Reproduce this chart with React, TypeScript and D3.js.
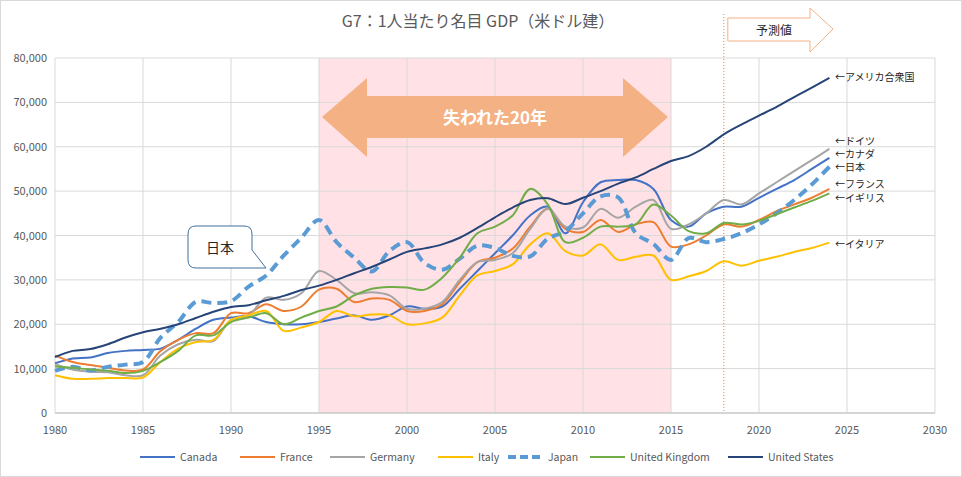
import * as d3 from "d3";

const years = d3.range(1980, 2025);
const xTicks = [1980, 1985, 1990, 1995, 2000, 2005, 2010, 2015, 2020, 2025, 2030];
const yTicks = [0, 10000, 20000, 30000, 40000, 50000, 60000, 70000, 80000];

const usa = [12.6,14,14.4,15.5,17,18.2,19,20,21.4,22.8,23.9,24.3,25.4,26.4,27.7,28.7,30,31.5,32.9,34.6,36.3,37.1,38,39.5,41.7,44.1,46.3,48,48.4,47.1,48.5,50,51.7,53.1,55,56.8,57.9,60,62.8,65,67,69,71.2,73.3,75.5];
const japan = [9.5,10.4,9.6,10.4,10.9,11.5,17,20.5,25,24.8,25.2,28.5,31,35.5,39.5,43.5,38.5,35,31.9,36.5,38.5,33.8,32.3,34.8,37.7,37.2,35.4,35.3,39.3,41,45,48.8,48.6,40.5,38.1,34.5,39.4,38.5,39.2,40.5,42.5,45,48,51.5,55.5];
const canada = [11.2,12.3,12.5,13.5,14,14.2,14.5,16.5,19,21,21.5,21.8,20.5,20,20,20.5,21.3,22,21,22,24,23.5,24,28,32,36,40,44.5,46.5,40.5,47.5,52,52.5,52.5,50.5,43.5,42,45,46.5,46.5,48.5,50.5,52.5,55,57.5];
const france = [13,11.5,10.8,10.2,9.6,9.8,14,16.5,18,18,22.5,22.5,24.5,23,24,27.8,28,25,25.8,25.5,23,23,24.5,29.5,34,35,37,42,46,41.5,40.8,43.5,40.8,42.5,43,37.5,38,40,42.5,42,43.5,45.5,47,48.5,50.5];
const germany = [11,9.8,9.3,9.2,8.5,8.5,13,15.5,16.5,16.2,21,22,26,25.5,27,32,30,27,27.2,26.5,23.5,23.5,25,30,34,34.5,36,41.5,46,42,41.8,46,44,46.5,48,41.5,42.5,45,48,47,49.5,52,54.5,57,59.5];
const italy = [8.5,7.7,7.7,7.9,7.9,8,11.5,14.5,16,16.5,21,22,23,18.5,19.3,20.5,23,21.8,22.2,22,20,20.2,21.5,26.5,31,32,33.5,38,40.5,36.5,35.5,38,34.5,35.2,35.5,30,30.8,32,34.2,33.2,34.3,35.2,36.3,37.2,38.4];
const uk = [10.5,10.2,9.8,9.5,9,9.5,11.5,14,17.5,17.5,20.5,21.5,22.5,20,21.5,23,24,26.5,28,28.4,28.3,27.8,30.5,35,40.5,42,44.5,50.5,47,38.5,39.5,42,42,42.5,47,44.5,41,40.5,42.8,42.5,43.3,44.8,46.3,47.8,49.5];

const series = [
  { name: "Canada", values: canada, color: "#4472c4", label: "←カナダ", ly: 154 },
  { name: "France", values: france, color: "#ed7d31", label: "←フランス", ly: 184 },
  { name: "Germany", values: germany, color: "#a5a5a5", label: "←ドイツ", ly: 141 },
  { name: "Italy", values: italy, color: "#ffc000", label: "←イタリア", ly: 244 },
  { name: "Japan", values: japan, color: "#5b9bd5", label: "←日本", ly: 167, dash: true },
  { name: "United Kingdom", values: uk, color: "#70ad47", label: "←イギリス", ly: 198 },
  { name: "United States", values: usa, color: "#264478", label: "←アメリカ合衆国", ly: 77 },
];
const labelOrder = ["United States", "Germany", "Canada", "Japan", "France", "United Kingdom", "Italy"];

const font = "'Noto Sans CJK JP', 'Noto Sans', sans-serif";

export default function App() {
  const W = 962, H = 477;
  const x = d3.scaleLinear().domain([1980, 2030]).range([55, 935]);
  const y = d3.scaleLinear().domain([0, 80000]).range([413, 58]);
  const line = d3.line<number>().x((_, i) => x(years[i])).y((d) => y(d * 1000)).curve(d3.curveCatmullRom);
  const ax = x(1995), bx = x(2015), fx = x(2018);
  const legendX = [140, 240, 330, 438, 508, 590, 728];

  return (
    <svg width={W} height={H} style={{ position: "absolute", left: 0, top: 0, fontFamily: font }}>
      <rect x={0.5} y={0.5} width={W - 1} height={H - 1} fill="#fff" stroke="#d9d9d9" />
      <rect x={ax} y={y(80000)} width={bx - ax} height={y(0) - y(80000)} fill="#ffe1e6" />
      {yTicks.map((t) => (
        <g key={t}>
          <line x1={x(1980)} x2={x(2030)} y1={y(t)} y2={y(t)} stroke="#d9d9d9" />
          <text x={x(1980) - 8} y={y(t) + 4} textAnchor="end" fontSize={11} fill="#595959">{d3.format(",")(t)}</text>
        </g>
      ))}
      {xTicks.map((t) => (
        <g key={t}>
          <line x1={x(t)} x2={x(t)} y1={y(0)} y2={y(80000)} stroke="#d9d9d9" />
          <text x={x(t)} y={y(0) + 21} textAnchor="middle" fontSize={11} fill="#595959">{t}</text>
        </g>
      ))}
      <line x1={x(1980)} x2={x(2030)} y1={y(0)} y2={y(0)} stroke="#bfbfbf" />
      <text x={478} y={27} textAnchor="middle" fontSize={16} fill="#595959">G7：1人当たり名目 GDP（米ドル建）</text>

      {/* 失われた20年 arrow */}
      <path
        d={`M${ax + 3},117 L${ax + 48},78 L${ax + 48},96 L${bx - 48},96 L${bx - 48},78 L${bx - 3},117 L${bx - 48},157 L${bx - 48},138 L${ax + 48},138 L${ax + 48},157 Z`}
        fill="#f4b183"
      />
      <text x={(ax + bx) / 2} y={124} textAnchor="middle" fontSize={17} fontWeight="bold" fill="#fff">失われた20年</text>

      {/* forecast */}
      <line x1={fx} x2={fx} y1={14} y2={413} stroke="#ed7d31" strokeDasharray="1,2" />
      <path d={`M${fx + 4},18 L810,18 L810,8 L833,29 L810,52 L810,41 L${fx + 4},41 Z`} fill="#fff" stroke="#f4b183" />
      <text x={774} y={35} textAnchor="middle" fontSize={12} fill="#262626">予測値</text>

      {series.map((s) => (
        <path key={s.name} d={line(s.values) ?? ""} fill="none" stroke={s.color}
          strokeWidth={s.dash ? 4 : 2} strokeDasharray={s.dash ? "10,6" : undefined} />
      ))}
      {labelOrder.map((n) => {
        const s = series.find((d) => d.name === n)!;
        return <text key={n} x={835} y={s.ly + 4} fontSize={10} fill="#262626">{s.label}</text>;
      })}

      {/* callout */}
      <path d="M196,226 L244,226 Q252,226 252,234 L252,250 L266,268 L248,268 L196,268 Q188,268 188,260 L188,234 Q188,226 196,226 Z"
        fill="#fff" stroke="#41719c" />
      <text x={220} y={253} textAnchor="middle" fontSize={14} fill="#262626">日本</text>

      {series.map((s, i) => (
        <g key={s.name} transform={`translate(${legendX[i]},457)`}>
          <line x1={0} x2={35} y1={0} y2={0} stroke={s.color} strokeWidth={s.dash ? 4 : 2} strokeDasharray={s.dash ? "8,4" : undefined} />
          <text x={40} y={4} fontSize={10.5} fill="#595959">{s.name}</text>
        </g>
      ))}
    </svg>
  );
}
